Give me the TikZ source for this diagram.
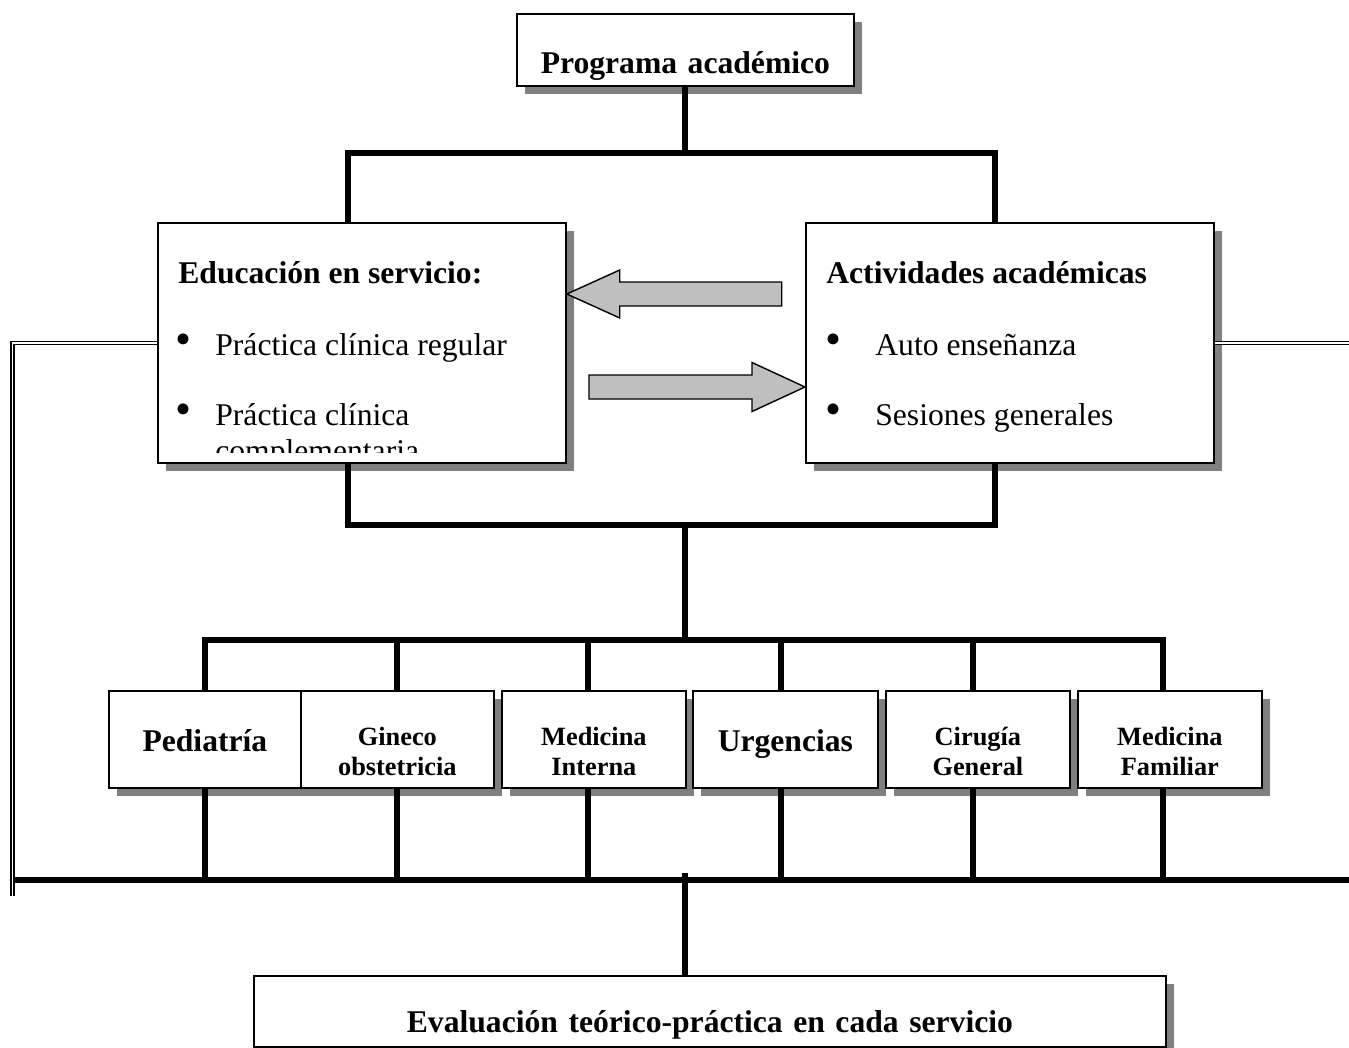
\documentclass[tikz,border=0pt]{standalone}
\usepackage{fontspec}
\setmainfont{Liberation Serif}
\usetikzlibrary{shadows}
\definecolor{ShadowClr}{rgb}{0.5,0.5,0.5}
\definecolor{ArrowClr}{rgb}{0.75,0.75,0.75}
\newlength{\pxu}
\setlength{\pxu}{0.02cm}

\begin{document}
\begin{tikzpicture}[x=0.02cm,y=-0.02cm,
  box/.style={draw=black,line width=1pt,fill=white,inner sep=0pt,anchor=north west,
    drop shadow={shadow xshift=4.5pt,shadow yshift=-4.5pt,fill=ShadowClr,opacity=1}},
  head/.style={font=\fontsize{18}{20.7}\selectfont\bfseries,inner sep=0pt},
  item/.style={font=\fontsize{18}{20.7}\selectfont,inner sep=0pt,align=left},
  dot/.style={font=\fontsize{26}{26}\selectfont,inner sep=0pt,anchor=center},
  unit/.style={box,minimum height=97\pxu,text height=61\pxu,text depth=36\pxu,
    align=center,font=\fontsize{18}{21}\selectfont\bfseries},
  unitsm/.style={unit,text height=55\pxu,text depth=42\pxu,font=\fontsize{15}{17}\selectfont\bfseries},
  branch/.style={line width=3.4pt},
  link/.style={double=white,double distance=1.1pt,line width=0.8pt},
  blockarrow/.style={draw=black,line width=0.8pt,fill=ArrowClr,line join=miter}]
\useasboundingbox (0,0) rectangle (1349,1048);

% boxes
\node[box,text width=337\pxu,text height=60\pxu,text depth=12\pxu,align=center,
  font=\fontsize{18}{21}\selectfont\bfseries] (prog) at (516,13) {Programa académico};
\node[box,minimum width=408\pxu,minimum height=240\pxu] (edu) at (157,222) {};
\node[box,minimum width=408\pxu,minimum height=240\pxu] (act) at (805,222) {};

\node[head,anchor=base west] (edutitle) at (178,283) {Educación en servicio:};
\begin{scope}
\clip (edu.north west) rectangle (565,452);
\node[dot] (edudot1) at (183,344) {\textbullet};
\node[item,anchor=base west] (edutxt1) at (215,355) {Práctica clínica regular};
\node[dot] (edudot2) at (183,414) {\textbullet};
\node[item,anchor=base west] (edutxt2) at (215,461.5) {Práctica clínica\\complementaria};
\end{scope}

\node[head,anchor=base west] (acttitle) at (826,283) {Actividades académicas};
\node[dot] (actdot1) at (833,344) {\textbullet};
\node[item,anchor=base west] (acttxt1) at (875,355) {Auto enseñanza};
\node[dot] (actdot2) at (833,414) {\textbullet};
\node[item,anchor=base west] (acttxt2) at (875,425) {Sesiones generales};

\node[unit,text width=192\pxu] (ped) at (108,690) {Pediatría};
\node[unitsm,text width=193\pxu] (gin) at (300,690) {Gineco\\obstetricia};
\node[unitsm,text width=184\pxu] (mi) at (501,690) {Medicina\\Interna};
\node[unit,text width=185\pxu] (urg) at (692,690) {Urgencias};
\node[unitsm,text width=184\pxu] (cir) at (885,690) {Cirugía\\General};
\node[unitsm,text width=184\pxu] (mf) at (1077,690) {Medicina\\Familiar};

\node[box,text width=912\pxu,text height=57\pxu,text depth=14\pxu,align=center,
  font=\fontsize{18}{21}\selectfont\bfseries] (eval) at (253,975) {Evaluación teórico-práctica en cada servicio};

% arrows between the two blocks
\coordinate (tipL) at (edu.east |- 0,294);
\coordinate (tipR) at (act.west |- 0,387);
\filldraw[blockarrow] (tipL) -- ++(53,-24) -- ++(0,12) -- ++(162,0) -- ++(0,24)
  -- ++(-162,0) -- ++(0,12) -- cycle;
\filldraw[blockarrow] (tipR) -- ++(-53,-24.5) -- ++(0,12.5) -- ++(-163,0) -- ++(0,24)
  -- ++(163,0) -- ++(0,12.5) -- cycle;

% tree
\coordinate (jl) at (348,153);
\coordinate (jr) at (995,153);
\coordinate (ml) at (348,525);
\coordinate (mr) at (995,525);
\coordinate (mc) at (685,525);
\coordinate (bus) at (685,640);
\coordinate (base) at (13,880);
\draw[branch] (prog.south) -- (prog.south |- jl);
\draw[branch] (edu.north -| jl) -- (jl) -- (jr) -- (act.north -| jr);
\draw[branch] (edu.south -| ml) -- (ml) -- (mr) -- (act.south -| mr);
\draw[branch] (mc) -- (bus);
\draw[branch] (202,640) -- (1166,640);

\draw[branch] (205,640) -- (205,640 |- ped.north);
\draw[branch] (397,640) -- (397,640 |- gin.north);
\draw[branch] (588,640) -- (588,640 |- mi.north);
\draw[branch] (781,640) -- (781,640 |- urg.north);
\draw[branch] (973,640) -- (973,640 |- cir.north);
\draw[branch] (1163,640) -- (1163,640 |- mf.north);

\draw[branch] (205,880 |- ped.south) -- (205,880);
\draw[branch] (397,880 |- gin.south) -- (397,880);
\draw[branch] (588,880 |- mi.south) -- (588,880);
\draw[branch] (781,880 |- urg.south) -- (781,880);
\draw[branch] (973,880 |- cir.south) -- (973,880);
\draw[branch] (1163,880 |- mf.south) -- (1163,880);

\draw[branch] (base) -- (1360,880);
\draw[branch] (685,873) -- (685,873 |- eval.north);

% side links
\draw[link] (edu.west) -| (12.5,896);
\draw[link] (act.east) -- (1360,0 |- act.east);

\end{tikzpicture}
\end{document}
